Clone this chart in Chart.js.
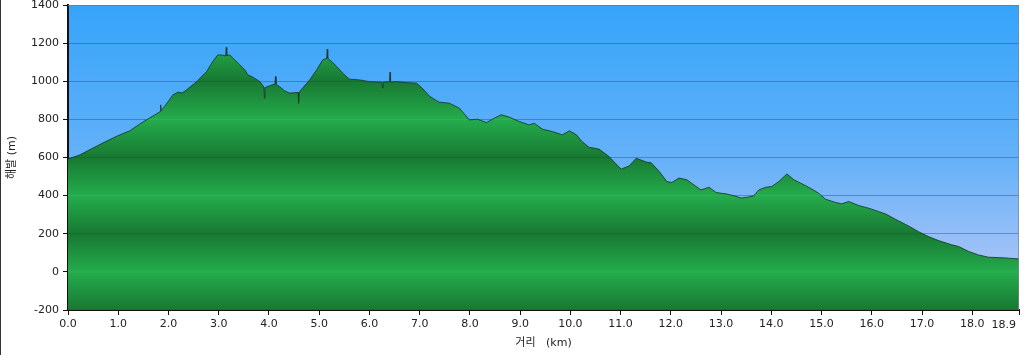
<!DOCTYPE html>
<html>
<head>
<meta charset="utf-8">
<script src="https://cdn.jsdelivr.net/npm/chart.js@4/dist/chart.umd.min.js"></script>
<style>
  html, body { margin: 0; padding: 0; background: #fff; }
  #wrap { position: relative; width: 1024px; height: 355px; }
</style>
</head>
<body>
<div id="wrap"><canvas id="profileChart" width="1024" height="355"></canvas></div>
<script>
// distance along the route (km)
const distKm = [
  0.00, 0.24, 0.50, 0.74, 0.99, 1.23, 1.43, 1.63, 1.77, 1.835, 1.845, 1.855, 1.97, 2.09, 2.19, 2.27, 2.36,
  2.56, 2.76, 2.88, 2.98, 3.06, 3.14, 3.15, 3.16, 3.22, 3.32, 3.42, 3.52, 3.58, 3.68, 3.82, 3.90,
  3.91, 3.92, 4.01, 4.12, 4.13, 4.14, 4.21, 4.31, 4.41, 4.58, 4.59, 4.60, 4.67, 4.81, 4.95, 5.07,
  5.15, 5.16, 5.17, 5.25, 5.35, 5.47, 5.60, 5.80, 6.00, 6.25, 6.26, 6.27, 6.40, 6.41, 6.42, 6.54,
  6.74, 6.94, 7.05, 7.19, 7.33, 7.39, 7.59, 7.79, 7.99, 8.15, 8.33, 8.45, 8.62, 8.78, 8.98, 9.18,
  9.28, 9.44, 9.64, 9.84, 9.98, 10.12, 10.23, 10.37, 10.57, 10.77, 11.01, 11.17, 11.31, 11.51, 11.61,
  11.77, 11.92, 12.02, 12.16, 12.32, 12.46, 12.60, 12.76, 12.90, 13.10, 13.26, 13.40, 13.55, 13.65,
  13.75, 13.89, 14.01, 14.15, 14.31, 14.45, 14.61, 14.81, 14.94, 15.08, 15.28, 15.40, 15.54, 15.74,
  15.94, 16.14, 16.28, 16.47, 16.73, 16.93, 17.13, 17.33, 17.59, 17.73, 17.93, 18.12, 18.32, 18.52,
  18.72, 18.93
];

// elevation (m)
const elevM = [
  592, 614, 650, 682, 714, 740, 776, 808, 830, 841, 876, 845, 885, 929, 943, 938, 955,
  998, 1051, 1103, 1138, 1138, 1133, 1178, 1135, 1138, 1112, 1086, 1060, 1034, 1021, 998, 970,
  911, 966, 976, 986, 1025, 984, 972, 950, 938, 941, 885, 943, 964, 1007, 1060, 1112,
  1121, 1168, 1120, 1103, 1077, 1042, 1011, 1007, 998, 995, 964, 995, 998, 1047, 996, 998,
  993, 990, 964, 923, 899, 890, 885, 859, 797, 801, 783, 801, 824, 812, 789, 771,
  780, 749, 736, 719, 740, 719, 684, 654, 644, 605, 539, 556, 596, 576, 572,
  526, 474, 469, 492, 483, 456, 430, 444, 416, 409, 399, 387, 393, 399,
  430, 444, 448, 474, 514, 483, 462, 434, 413, 381, 364, 357, 369, 348,
  334, 316, 303, 276, 241, 211, 185, 164, 142, 133, 107, 89, 77, 75,
  72, 68
];

const xTicks = [0, 1, 2, 3, 4, 5, 6, 7, 8, 9, 10, 11, 12, 13, 14, 15, 16, 17, 18, 18.93];
const yTicks = [-200, 0, 200, 400, 600, 800, 1000, 1200, 1400];

const fontFamily = "'DejaVu Sans', 'Noto Sans CJK KR', sans-serif";
const textColor = '#222';

// green fill with alternating light/dark bands between grid lines
function groundFill(context) {
  const chart = context.chart;
  const area = chart.chartArea;
  if (!area) return '#22a34a';
  const y = chart.scales.y;
  const h = area.bottom - area.top;
  const g = chart.ctx.createLinearGradient(0, area.top, 0, area.bottom);
  const d = 0.9 / h;
  for (let i = yTicks.length - 1; i >= 0; i--) {
    const v = yTicks[i];
    const pos = (y.getPixelForValue(v) - area.top) / h;
    const dark = ((v + 200) / 200) % 2 === 0;
    const band = dark ? '#187a33' : '#24ab4c';
    const line = dark ? '#136a2a' : '#2bb555';
    if (pos - d > 0) g.addColorStop(pos - d, band);
    g.addColorStop(Math.min(Math.max(pos, 0), 1), line);
    if (pos + d < 1) g.addColorStop(pos + d, band);
  }
  return g;
}

const skyPlugin = {
  id: 'sky',
  beforeDraw(chart) {
    const { ctx, chartArea: a } = chart;
    ctx.save();
    const g = ctx.createLinearGradient(0, a.top, 0, a.bottom);
    g.addColorStop(0, '#35a4fa');
    g.addColorStop(0.5, '#64b1f8');
    g.addColorStop(0.8, '#9cc0f7');
    g.addColorStop(1, '#b6cbf6');
    ctx.fillStyle = g;
    ctx.fillRect(a.left, a.top, a.right - a.left, a.bottom - a.top);
    ctx.restore();
  },
  afterDraw(chart) {
    const { ctx, chartArea: a, scales } = chart;
    ctx.save();
    // thin frame on the right and top of the plot
    ctx.strokeStyle = 'rgba(120,135,150,0.7)';
    ctx.lineWidth = 1;
    ctx.beginPath();
    ctx.moveTo(a.left, a.top + 0.5);
    ctx.lineTo(a.right - 0.5, a.top + 0.5);
    ctx.lineTo(a.right - 0.5, a.bottom);
    ctx.stroke();
    // last distance label, pulled inside the canvas
    const last = xTicks[xTicks.length - 1];
    ctx.fillStyle = textColor;
    ctx.font = '11px ' + fontFamily;
    ctx.textAlign = 'right';
    ctx.textBaseline = 'middle';
    ctx.fillText(last.toFixed(1), scales.x.getPixelForValue(last) - 3, a.bottom + 5 + 3 + 7);
    // outer left edge
    ctx.fillStyle = '#333';
    ctx.fillRect(0, 0, 1, 355);
    ctx.restore();
  }
};

const ctx = document.getElementById('profileChart').getContext('2d');
new Chart(ctx, {
  type: 'line',
  data: {
    datasets: [{
      data: distKm.map((d, i) => ({ x: d, y: elevM[i] })),
      borderColor: 'rgba(25,55,40,0.85)',
      borderWidth: 1,
      pointRadius: 0,
      tension: 0,
      fill: 'start',
      backgroundColor: groundFill
    }]
  },
  options: {
    responsive: false,
    animation: false,
    events: [],
    layout: { padding: { top: 5, right: 5, left: 0, bottom: 0 } },
    plugins: { legend: { display: false }, tooltip: { enabled: false } },
    scales: {
      x: {
        type: 'linear',
        min: 0,
        max: 18.93,
        afterBuildTicks: s => { s.ticks = xTicks.map(v => ({ value: v })); },
        afterFit: s => { s.height = 45; s.paddingLeft = 0; s.paddingRight = 0; },
        grid: { drawOnChartArea: false, drawTicks: true, tickLength: 5, tickColor: '#111' },
        border: { display: true, color: '#111', width: 2 },
        ticks: {
          autoSkip: false,
          maxRotation: 0,
          padding: 3,
          color: textColor,
          font: { family: fontFamily, size: 11 },
          callback: v => (v === xTicks[xTicks.length - 1] ? '' : Number(v).toFixed(1))
        },
        title: {
          display: true,
          text: '거리   (km)',
          color: textColor,
          font: { family: fontFamily, size: 11 },
          padding: { top: 0, bottom: 5 }
        }
      },
      y: {
        min: -200,
        max: 1400,
        afterBuildTicks: s => { s.ticks = yTicks.map(v => ({ value: v })); },
        afterFit: s => { s.width = 68; s.paddingTop = 0; s.paddingBottom = 0; },
        grid: { color: 'rgba(10,50,120,0.35)', lineWidth: 1, drawTicks: true, tickLength: 5, tickColor: '#111' },
        border: { display: true, color: '#111', width: 2 },
        ticks: {
          padding: 4,
          color: textColor,
          font: { family: fontFamily, size: 11 },
          callback: v => String(v)
        },
        title: {
          display: true,
          text: '해발 (m)',
          color: textColor,
          font: { family: fontFamily, size: 11 },
          padding: { top: 6, bottom: 0 }
        }
      }
    }
  },
  plugins: [skyPlugin]
});
</script>
</body>
</html>
